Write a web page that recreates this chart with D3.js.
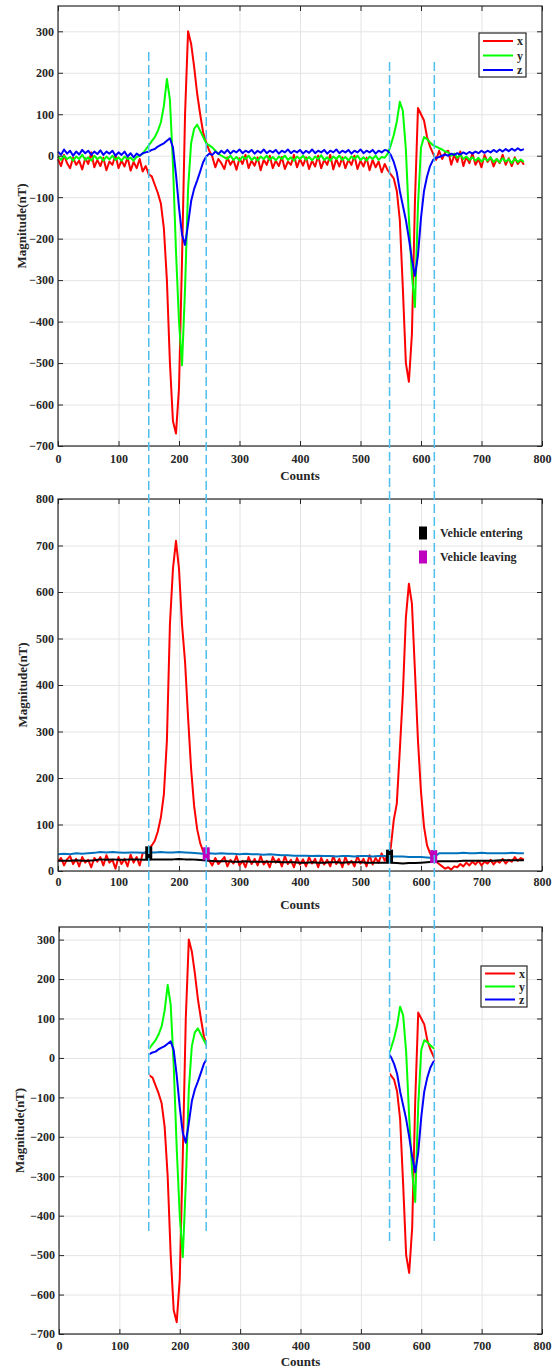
<!DOCTYPE html>
<html>
<head>
<meta charset="utf-8">
<script src="https://cdn.jsdelivr.net/npm/d3@7"></script>
<style>
  body { margin: 0; background: #fff; }
  svg { display: block; font-family: "Liberation Serif", "Times New Roman", serif; font-weight: bold; }
</style>
</head>
<body>
<div id="chart"></div>
<script>
// ---- data ----
const counts = d3.range(0, 771, 5);          // sample positions, every 5 counts
const slowCounts = d3.range(0, 771, 10);     // for the smooth reference curves

const xTicks = [0, 100, 200, 300, 400, 500, 600, 700, 800];
const fieldTicks = [-700, -600, -500, -400, -300, -200, -100, 0, 100, 200, 300];
const magTicks = [0, 100, 200, 300, 400, 500, 600, 700, 800];

// field components (nT)
const fieldX = [
  -8, -25, 2, -18, -30, -5, -22, -12, -33, -6, -20, 8, -28, -10, -25, -5, -35, -14, -22, 2,
  -30, -12, -26, -4, -36, -15, -30, -8, -38, -25, -45, -50, -70, -90, -115, -175, -300, -500, -640, -670,
  -560, -250, 100, 300, 270, 215, 150, 100, 55, 32, 12, -2, -28, -8, -18, -32, -4, -22, -10, -34,
  -6, -20, 2, -30, -12, -24, -4, -35, -10, -22, 0, -30, -12, -25, -3, -32, -14, -22, 2, -28,
  -8, -24, -4, -32, -12, -26, 0, -30, -10, -22, 2, -33, -8, -26, -4, -30, -10, -22, 0, -32,
  -12, -26, -5, -35, -10, -28, -14, -40, -20, -35, -45, -55, -85, -155, -320, -500, -545, -430, -110, 115,
  100, 85, 45, 22, 5, -10, 12, -8, 8, 12, -22, 2, -15, 10, -25, -3, -18, 6, -22, -8,
  -28, 2, -15, -4, -26, -8, -18, 2, -22, -6, -25, -4, -20, -10, -22
];
const fieldY = [
  -2, -10, 0, -8, -3, -12, -2, -8, 2, -10, -4, -12, 0, -8, -3, -12, -2, -9, 0, -10,
  -4, -12, -2, -8, -5, -12, -3, 0, 5, 15, 25, 35, 45, 60, 80, 120, 185, 135, -20, -230,
  -400, -505, -320, -80, 30, 65, 75, 60, 45, 30, 25, 20, 12, 5, 0, -4, -8, 0, -10, -3,
  -12, -2, -8, 0, -10, -4, -12, -2, -8, 0, -10, -3, -11, -2, -8, 0, -10, -4, -12, -2,
  -8, 0, -10, -3, -11, -2, -8, 1, -10, -4, -12, -2, -8, 0, -10, -3, -11, -2, -8, 0,
  -10, -4, -12, -2, -8, 0, -10, -3, -5, 5, 25, 50, 82, 130, 108, 15, -150, -290, -365, -120,
  20, 45, 40, 32, 25, 22, 18, 15, 10, 8, 0, 5, -5, 2, -8, -2, -10, -4, -12, -5,
  -14, -6, -12, -4, -15, -8, -16, -6, -14, -8, -18, -7, -15, -9, -15
];
const fieldZ = [
  10, 2, 15, 5, 12, 0, 10, 3, 14, 6, 12, 2, 10, 4, 13, 2, 10, 5, 12, 0,
  8, 2, 10, -2, 6, -4, 5, 0, 6, 8, 10, 14, 16, 22, 26, 30, 36, 42, 20, -45,
  -125, -190, -215, -165, -110, -80, -60, -38, -15, -2, 5, 2, 10, 4, 12, 6, 14, 5, 12, 8,
  15, 6, 12, 8, 14, 5, 12, 7, 15, 6, 12, 8, 14, 5, 12, 8, 15, 6, 12, 8,
  14, 5, 12, 7, 15, 6, 12, 8, 14, 5, 12, 8, 15, 6, 12, 8, 14, 5, 12, 8,
  15, 6, 12, 8, 14, 5, 12, 8, 14, 12, 2, -15, -40, -85, -120, -155, -200, -250, -290, -240,
  -150, -85, -50, -25, -10, -5, -3, 0, 3, 0, 5, 2, 6, 3, 8, 4, 9, 5, 10, 6,
  12, 7, 12, 8, 14, 9, 15, 10, 16, 11, 17, 12, 18, 13, 16
];

// magnitude (nT)
const magnitude = [
  20, 28, 12, 25, 32, 15, 26, 10, 30, 18, 24, 8, 28, 20, 30, 12, 34, 18, 24, 5,
  30, 15, 26, 10, 35, 18, 30, 12, 38, 40, 48, 55, 65, 85, 115, 165, 280, 530, 650, 710,
  650, 530, 450, 330, 220, 140, 90, 60, 42, 32, 22, 12, 28, 15, 22, 30, 10, 24, 16, 32,
  12, 22, 8, 30, 15, 26, 12, 32, 14, 22, 8, 30, 18, 26, 10, 32, 15, 24, 8, 28,
  14, 25, 10, 30, 16, 26, 8, 28, 14, 24, 10, 32, 15, 26, 8, 30, 14, 22, 10, 32,
  16, 26, 10, 34, 14, 28, 18, 38, 22, 35, 50, 110, 145, 260, 380, 545, 618, 575, 430, 280,
  170, 95, 55, 38, 28, 20, 15, 10, 5, 8, 3, 10, 8, 15, 10, 18, 12, 20, 14, 22,
  12, 20, 16, 24, 14, 22, 18, 26, 16, 24, 20, 30, 22, 28, 24
];
const upperRef = [
  36, 37, 36, 38, 37, 38, 39, 41, 40, 41, 40, 39, 40, 40, 39, 40, 40, 41, 40, 40,
  41, 40, 39, 38, 37, 38, 37, 38, 37, 37, 36, 37, 36, 36, 35, 36, 35, 34, 34, 33,
  33, 33, 32, 33, 32, 32, 31, 32, 32, 31, 32, 32, 31, 32, 32, 31, 31, 31, 30, 30,
  30, 29, 28, 38, 38, 38, 38, 39, 38, 38, 39, 38, 38, 38, 38, 39, 38, 38
];
const lowerRef = [
  22, 22, 22, 23, 22, 22, 23, 25, 24, 25, 24, 24, 25, 25, 24, 24, 25, 25, 25, 25,
  26, 25, 25, 24, 23, 22, 21, 21, 21, 20, 20, 21, 20, 20, 20, 20, 20, 19, 19, 19,
  18, 18, 19, 18, 18, 19, 19, 18, 19, 19, 19, 18, 18, 18, 18, 18, 17, 16, 17, 17,
  18, 19, 20, 21, 21, 21, 21, 22, 22, 22, 22, 22, 22, 23, 23, 23, 23, 23
];

const enterCounts = [150, 548];
const enterValues = [39, 32];
const leaveCounts = [245, 621];
const leaveValues = [37, 31];

// detection windows
const windows = [[150, 245], [548, 622]];

// ---- drawing ----
const W = 556, H = 1368;
const svg = d3.select('#chart').append('svg').attr('width', W).attr('height', H);
const axisColor = '#262626';
const gridColor = '#e4e4e4';

function makePanel(cfg) {
  const x = d3.scaleLinear().domain([0, 800]).range([cfg.left, cfg.right]);
  const y = d3.scaleLinear().domain(cfg.yDomain).range([cfg.bottom, cfg.top]);
  const g = svg.append('g');

  // grid
  g.append('g')
    .attr('transform', `translate(0,${cfg.bottom})`)
    .call(d3.axisBottom(x).tickValues(xTicks).tickSize(-(cfg.bottom - cfg.top)).tickFormat(''))
    .call(a => a.select('.domain').remove())
    .selectAll('line').attr('stroke', gridColor);
  g.append('g')
    .attr('transform', `translate(${cfg.left},0)`)
    .call(d3.axisLeft(y).tickValues(cfg.yTicks).tickSize(-(cfg.right - cfg.left)).tickFormat(''))
    .call(a => a.select('.domain').remove())
    .selectAll('line').attr('stroke', gridColor);

  const plot = g.append('g');
  const front = g.append('g');
  return { x, y, g, plot, front, cfg };
}

function finishAxes(p) {
  const { x, y, g, cfg } = p;
  const styleAxis = a => {
    a.attr('font-family', null).attr('font-size', 12);
    a.select('.domain').remove();
    a.selectAll('line').attr('stroke', axisColor);
    a.selectAll('text').attr('fill', axisColor);
  };
  g.append('g')
    .attr('transform', `translate(0,${cfg.bottom})`)
    .call(d3.axisBottom(x).tickValues(xTicks).tickSize(-5).tickSizeOuter(0))
    .call(styleAxis)
    .selectAll('text').attr('y', cfg.tickBase - cfg.bottom).attr('dy', null);
  g.append('g')
    .attr('transform', `translate(0,${cfg.top})`)
    .call(d3.axisTop(x).tickValues(xTicks).tickSize(-5).tickSizeOuter(0).tickFormat(''))
    .call(styleAxis);
  g.append('g')
    .attr('transform', `translate(${cfg.left},0)`)
    .call(d3.axisLeft(y).tickValues(cfg.yTicks).tickSize(-5).tickSizeOuter(0).tickPadding(4))
    .call(styleAxis)
    .selectAll('text').attr('x', -4);
  g.append('g')
    .attr('transform', `translate(${cfg.right},0)`)
    .call(d3.axisRight(y).tickValues(cfg.yTicks).tickSize(-5).tickSizeOuter(0).tickFormat(''))
    .call(styleAxis);

  g.append('rect')
    .attr('x', cfg.left).attr('y', cfg.top)
    .attr('width', cfg.right - cfg.left).attr('height', cfg.bottom - cfg.top)
    .attr('fill', 'none').attr('stroke', axisColor).attr('stroke-width', 1.2);

  g.append('text')
    .attr('x', (cfg.left + cfg.right) / 2).attr('y', cfg.labelBase)
    .attr('text-anchor', 'middle').attr('font-size', 13).attr('fill', axisColor)
    .text('Counts');
  g.append('text')
    .attr('transform', `translate(${cfg.yLabelX},${(cfg.top + cfg.bottom) / 2}) rotate(-90)`)
    .attr('text-anchor', 'middle').attr('font-size', 13).attr('fill', axisColor)
    .text('Magnitude(nT)');
}

function drawSeries(p, xs, ys, color, clipId) {
  const line = d3.line().x(d => p.x(d[0])).y(d => p.y(d[1]));
  const path = p.plot.append('path')
    .datum(d3.zip(xs, ys))
    .attr('d', line)
    .attr('fill', 'none')
    .attr('stroke', color)
    .attr('stroke-width', 2)
    .attr('stroke-linejoin', 'round');
  if (clipId) path.attr('clip-path', `url(#${clipId})`);
}

function drawXYZLegend(p, box) {
  const lg = p.front.append('g');
  lg.append('rect')
    .attr('x', box.x).attr('y', box.y).attr('width', box.w).attr('height', box.h)
    .attr('fill', '#fff').attr('stroke', axisColor).attr('stroke-width', 1.2);
  const items = [['x', '#ff0000'], ['y', '#00ff00'], ['z', '#0000ff']];
  items.forEach((it, i) => {
    const cy = box.y + box.first + i * box.gap;
    lg.append('line')
      .attr('x1', box.x + 4).attr('x2', box.x + 34).attr('y1', cy).attr('y2', cy)
      .attr('stroke', it[1]).attr('stroke-width', 2);
    lg.append('text')
      .attr('x', box.x + 38).attr('y', cy + 4)
      .attr('font-size', 12).attr('fill', axisColor)
      .text(it[0]);
  });
}

// panel 1: raw components
const p1 = makePanel({
  left: 58, right: 542, top: 6, bottom: 446,
  yDomain: [-700, 361], yTicks: fieldTicks,
  tickBase: 463, labelBase: 480, yLabelX: 26
});
drawSeries(p1, counts, fieldX, '#ff0000');
drawSeries(p1, counts, fieldY, '#00ff00');
drawSeries(p1, counts, fieldZ, '#0000ff');
finishAxes(p1);
drawXYZLegend(p1, { x: 479, y: 33, w: 47, h: 44, first: 8, gap: 14.5 });

// panel 2: magnitude with entering / leaving markers
const p2 = makePanel({
  left: 58, right: 542, top: 499, bottom: 871,
  yDomain: [0, 800], yTicks: magTicks,
  tickBase: 886, labelBase: 909, yLabelX: 27
});
drawSeries(p2, counts, magnitude, '#ff0000');
drawSeries(p2, slowCounts, upperRef, '#0072bd');
drawSeries(p2, slowCounts, lowerRef, '#000000');
p2.plot.selectAll('rect.enter')
  .data(d3.zip(enterCounts, enterValues)).join('rect')
  .attr('x', d => p2.x(d[0]) - 3.5).attr('y', d => p2.y(d[1]) - 6.5)
  .attr('width', 7).attr('height', 13).attr('fill', '#000');
p2.plot.selectAll('rect.leave')
  .data(d3.zip(leaveCounts, leaveValues)).join('rect')
  .attr('x', d => p2.x(d[0]) - 3.5).attr('y', d => p2.y(d[1]) - 6.5)
  .attr('width', 7).attr('height', 13).attr('fill', '#bf00bf');
finishAxes(p2);
[['Vehicle entering', '#000'], ['Vehicle leaving', '#bf00bf']].forEach((it, i) => {
  const cy = 533 + i * 24;
  p2.front.append('rect').attr('x', 419).attr('y', cy - 6.5).attr('width', 8).attr('height', 13).attr('fill', it[1]);
  p2.front.append('text').attr('x', 440).attr('y', cy + 4).attr('font-size', 12).attr('fill', axisColor).text(it[0]);
});

// panel 3: components inside the detection windows only
const p3 = makePanel({
  left: 59, right: 542, top: 927, bottom: 1334,
  yDomain: [-700, 332], yTicks: fieldTicks,
  tickBase: 1350, labelBase: 1366, yLabelX: 24
});
const defs = svg.append('defs');
const clip = defs.append('clipPath').attr('id', 'win-clip');
windows.forEach(w => {
  clip.append('rect')
    .attr('x', p3.x(w[0])).attr('y', p3.cfg.top)
    .attr('width', p3.x(w[1]) - p3.x(w[0])).attr('height', p3.cfg.bottom - p3.cfg.top);
});
drawSeries(p3, counts, fieldX, '#ff0000', 'win-clip');
drawSeries(p3, counts, fieldY, '#00ff00', 'win-clip');
drawSeries(p3, counts, fieldZ, '#0000ff', 'win-clip');
finishAxes(p3);
drawXYZLegend(p3, { x: 481, y: 966, w: 46, h: 41, first: 7.5, gap: 13 });

// dashed window markers across the whole figure
const dashSpan = [[52, 1231], [52, 1231], [62, 1242], [62, 1242]];
const dashCounts = [windows[0][0], windows[0][1], windows[1][0], windows[1][1]];
svg.append('g').selectAll('line')
  .data(dashCounts).join('line')
  .attr('x1', d => p1.x(d)).attr('x2', d => p1.x(d))
  .attr('y1', (d, i) => dashSpan[i][0]).attr('y2', (d, i) => dashSpan[i][1])
  .attr('stroke', '#4dbeee').attr('stroke-width', 1.5)
  .attr('stroke-dasharray', '9,4');
</script>
</body>
</html>
